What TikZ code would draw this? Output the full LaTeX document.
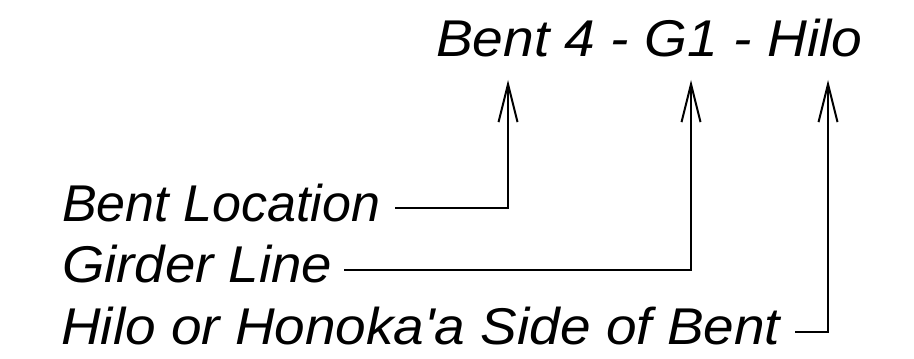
\documentclass[tikz,border=0pt]{standalone}
\usepackage{fontspec}
\setmainfont{Liberation Sans}
\usetikzlibrary{arrows.meta,calc}
\newcommand{\fitw}[2]{\resizebox{#1}{\height}{#2}}
\begin{document}
\begin{tikzpicture}[x=1pt,y=1pt,
  lbl/.style={anchor=base west, inner sep=0pt, font=\fontsize{51.7}{60}\selectfont\itshape},
  conn/.style={line width=2pt},
  ptr/.style={conn, -{Straight Barb[length=38pt,width=19pt,line width=2pt]}}]
\useasboundingbox (0,0) rectangle (914,359);
\node[lbl] (title) at (436,302) {\fitw{426pt}{Bent 4 - G1 - Hilo}};
\node[lbl] (bl) at (62,137) {\fitw{318pt}{Bent Location}};
\node[lbl] (gl) at (62,76) {\fitw{270pt}{Girder Line}};
\node[lbl] (hs) at (61,14) {\fitw{719pt}{Hilo or Honoka\textquotesingle a Side of Bent}};
\coordinate (t1) at (508,279);
\coordinate (t2) at (691,279);
\coordinate (t3) at (828,279);
\coordinate (s1) at ($(bl.base east)+(15,14)$);
\coordinate (s2) at ($(gl.base east)+(12,13)$);
\coordinate (s3) at ($(hs.base east)+(15,13)$);
\draw[ptr] (s1) -| (t1);
\draw[ptr] (s2) -| (t2);
\draw[ptr] (s3) -| (t3);
\end{tikzpicture}
\end{document}
